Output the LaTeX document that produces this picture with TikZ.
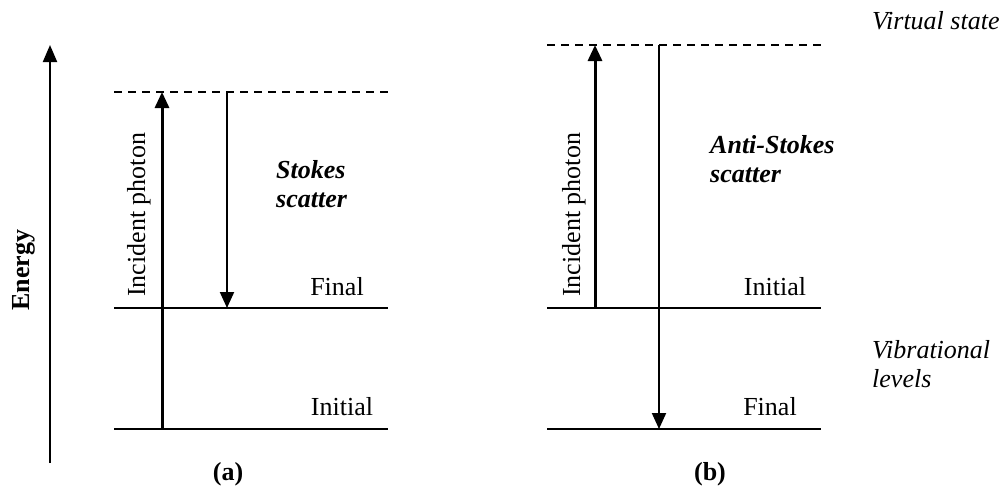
\documentclass[tikz,border=0pt]{standalone}
\usepackage{fontspec}
\setmainfont{Liberation Serif}
\usetikzlibrary{arrows.meta}
\begin{document}
\begin{tikzpicture}[x=1pt,y=-1pt,
  level/.style={line width=2pt},
  virtual/.style={line width=1.5pt, dash pattern=on 8pt off 6pt},
  photon/.style={line width=3pt, -{Triangle[width=14pt,length=16pt]}},
  scatterarrow/.style={line width=2pt, -{Triangle[width=14pt,length=16pt]}},
  axis/.style={line width=2pt, -{Triangle[width=14pt,length=17pt]}},
  lbl/.style={font=\fontsize{26}{30}\selectfont, inner sep=0pt},
  emph/.style={lbl, font=\fontsize{26}{30}\selectfont\bfseries\itshape, align=left},
  side/.style={lbl, font=\fontsize{26}{30}\selectfont\itshape, align=left},
  caption/.style={lbl, font=\fontsize{26}{30}\selectfont\bfseries}]
\useasboundingbox (0,0) rectangle (1005,490);

% energy axis
\coordinate (e0) at (50,463);
\coordinate (e1) at (50,45);
\draw[axis] (e0) -- (e1);
\node[caption, rotate=90, anchor=base] (energy) at (30,270) {Energy};

% ---- (a) Stokes scattering ----
\coordinate (aVL) at (114,92);  \coordinate (aVR) at (388,92);
\coordinate (aFL) at (114,308); \coordinate (aFR) at (388,308);
\coordinate (aIL) at (114,429); \coordinate (aIR) at (388,429);
\draw[virtual] (aVL) -- (aVR);
\draw[level] (aFL) -- (aFR);
\draw[level] (aIL) -- (aIR);

\coordinate (aP0) at (162,429); \coordinate (aP1) at (162,92);
\coordinate (aS0) at (227,92);  \coordinate (aS1) at (227,308);
\draw[photon] (aP0) -- (aP1);
\draw[scatterarrow] (aS0) -- (aS1);

\node[lbl, rotate=90, anchor=base west] (aInc) at (145,297) {Incident photon};
% multi-line nodes: the base anchor sits on the last line
\node[emph, anchor=base west] (aStokes) at (276,207) {Stokes\\[-1pt]scatter};
\node[lbl, anchor=base] (aFinal) at (337,295) {Final};
\node[lbl, anchor=base] (aInit) at (342,415) {Initial};
\node[caption, anchor=base] (capA) at (228,480) {(a)};

% ---- (b) anti-Stokes scattering ----
\coordinate (bVL) at (547,45);  \coordinate (bVR) at (821,45);
\coordinate (bIL) at (547,308); \coordinate (bIR) at (821,308);
\coordinate (bFL) at (547,429); \coordinate (bFR) at (821,429);
\draw[virtual] (bVL) -- (bVR);
\draw[level] (bIL) -- (bIR);
\draw[level] (bFL) -- (bFR);

\coordinate (bP0) at (595,308); \coordinate (bP1) at (595,45);
\coordinate (bS0) at (659,45);  \coordinate (bS1) at (659,429);
\draw[photon] (bP0) -- (bP1);
\draw[scatterarrow] (bS0) -- (bS1);

\node[lbl, rotate=90, anchor=base west] (bInc) at (580,297) {Incident photon};
\node[emph, anchor=base west] (bStokes) at (710,182) {Anti-Stokes\\[-1pt]scatter};
\node[lbl, anchor=base] (bInit) at (775,295) {Initial};
\node[lbl, anchor=base] (bFinal) at (770,415) {Final};
\node[caption, anchor=base] (capB) at (710,480) {(b)};

% side notes
\node[side, anchor=base west] (virt) at (872,29) {Virtual state};
\node[side, anchor=base west] (vib) at (872,387) {Vibrational\\[-1pt]levels};
\end{tikzpicture}
\end{document}
